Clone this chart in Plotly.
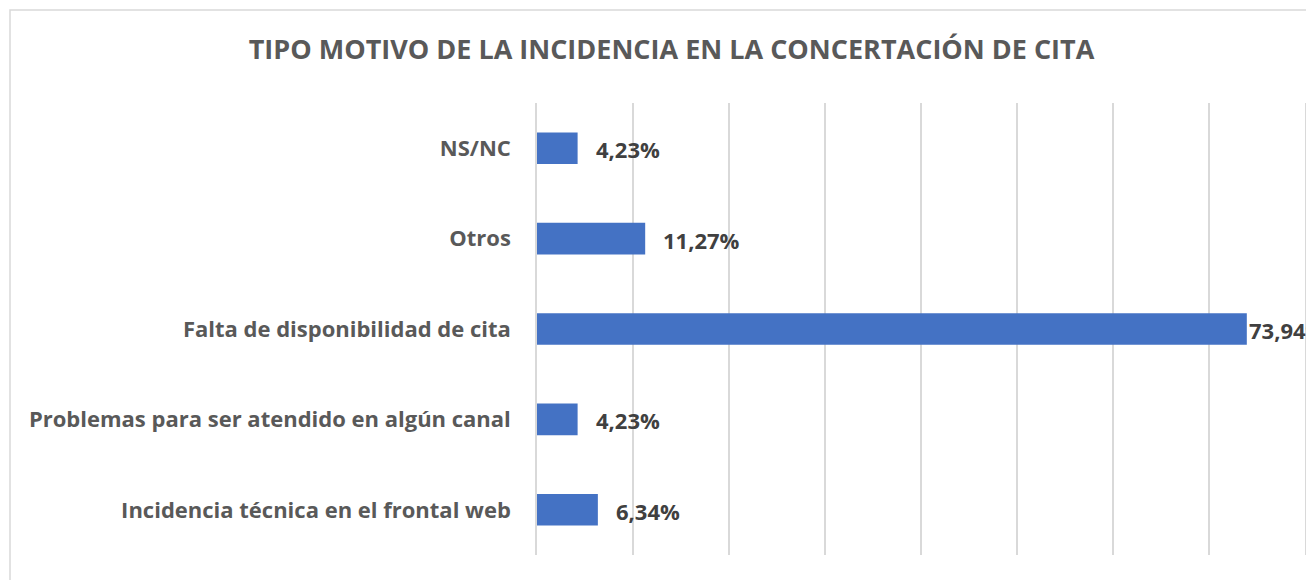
import plotly.graph_objects as go

categories = [
    "NS/NC",
    "Otros",
    "Falta de disponibilidad de cita",
    "Problemas para ser atendido en algún canal",
    "Incidencia técnica en el frontal web",
]
values = [4.23, 11.27, 73.94, 4.23, 6.34]
labels = ["4,23%", "11,27%", "73,94%", "4,23%", "6,34%"]

FONT = "'Open Sans', Lato, sans-serif"
W, H = 1314, 580
OFF = 8  # page body margin
# desired plot area in page pixels: x 537..1305, y 103..555
L = 537 - OFF
R = W - (1305 - OFF)
T = 103 - OFF
B = H - (555 - OFF)
pw, ph = W - L - R, H - T - B

fig = go.Figure()
fig.add_trace(go.Bar(
    x=values, y=categories, orientation="h",
    marker=dict(color="#4472C4", line=dict(width=0)),
    width=0.35, hoverinfo="skip",
))

for v, c, t in zip(values, categories, labels):
    shift = 0 if v > 60 else 16
    fig.add_annotation(
        x=v, y=c, text=t, showarrow=False, xanchor="left", yanchor="middle",
        xshift=shift, yshift=-1,
        font=dict(family=FONT, size=22, color="#404040", weight="bold"),
    )

def px_x(p):
    return (p - OFF - L) / pw

def px_y(p):
    return (H - B - (p - OFF)) / ph

fig.add_shape(type="rect", xref="paper", yref="paper",
              x0=px_x(10), x1=px_x(1340), y0=px_y(10), y1=px_y(620),
              line=dict(color="#D9D9D9", width=1.5), layer="below")

fig.update_layout(
    width=W, height=H,
    margin=dict(l=L, r=R, t=T, b=B),
    paper_bgcolor="white", plot_bgcolor="white",
    showlegend=False,
    title=dict(
        text="<b>TIPO MOTIVO DE LA INCIDENCIA EN LA CONCERTACIÓN DE CITA</b>",
        x=(671.5 - OFF) / W, xanchor="center", y=1 - (50 - OFF) / H, yanchor="middle",
        font=dict(family=FONT, size=27, color="#595959"),
    ),
    xaxis=dict(range=[0, 80], dtick=10, showticklabels=False,
               showgrid=True, gridcolor="#D9D9D9", gridwidth=1.5,
               zeroline=False, showline=False, fixedrange=True),
    yaxis=dict(autorange="reversed", showgrid=False, zeroline=False,
               showline=True, mirror=True, linecolor="#D9D9D9", linewidth=1.5,
               ticks="", ticklabelstandoff=20,
               tickfont=dict(family=FONT, size=22, color="#595959", weight="bold"),
               fixedrange=True, layer="below traces"),
)

fig.write_html("out.html")
